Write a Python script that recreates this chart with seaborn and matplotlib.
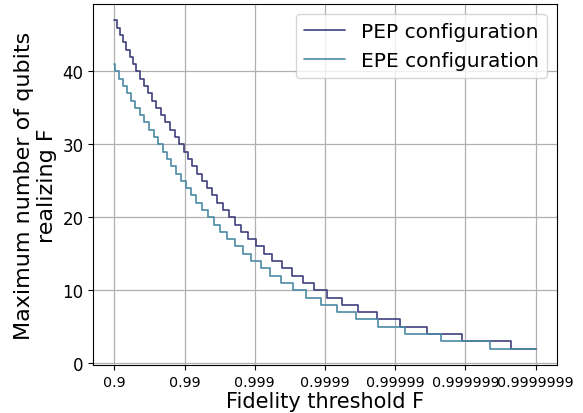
import matplotlib
matplotlib.use("Agg")
import matplotlib.pyplot as plt
import seaborn as sns
import pandas as pd

# x = -log10(1 - F); step starts for each qubit count
pep_levels = list(range(47, 1, -1))
pep_starts = [1.00, 1.04, 1.085, 1.13, 1.17, 1.22, 1.26, 1.31, 1.365, 1.421,
              1.478, 1.537, 1.598, 1.661, 1.725, 1.792, 1.860, 1.925, 1.989, 2.049,
              2.112, 2.178, 2.245, 2.316, 2.389, 2.465, 2.546, 2.63, 2.72, 2.81,
              2.91, 3.014, 3.133, 3.251, 3.389, 3.531, 3.687, 3.844, 4.028, 4.242,
              4.469, 4.744, 5.062, 5.450, 5.948, 6.654]
epe_levels = list(range(41, 1, -1))
epe_starts = [1.00, 1.01, 1.065, 1.121, 1.178, 1.237, 1.298, 1.361, 1.425, 1.492,
              1.560, 1.625, 1.689, 1.749, 1.812, 1.878, 1.945, 2.016, 2.089, 2.165,
              2.246, 2.33, 2.42, 2.51, 2.61, 2.714, 2.833, 2.953, 3.085, 3.223,
              3.379, 3.545, 3.725, 3.938, 4.171, 4.436, 4.754, 5.142, 5.645, 6.351]
x_end = 7.0

tick_pos = [1, 2, 3, 4, 5, 6, 7]
tick_labels = ["0.9", "0.99", "0.999", "0.9999", "0.99999", "0.999999", "0.9999999"]

series_names = ["PEP configuration", "EPE configuration"]
colors = ["#3f3f7e", "#4a8aa6"]

sns.set_style("ticks")
plt.rcParams['font.family'] = ['DejaVu Sans']
plt.rcParams.update({"text.color": "black", "axes.labelcolor": "black",
                     "xtick.color": "black", "ytick.color": "black",
                     "axes.edgecolor": "black"})

fig = plt.figure(figsize=(5.83, 4.14), dpi=100)
ax = fig.add_axes([0.160, 0.116, 0.795, 0.872])

for name, starts, levels, c in [(series_names[0], pep_starts, pep_levels, colors[0]),
                                 (series_names[1], epe_starts, epe_levels, colors[1])]:
    df = pd.DataFrame({"x": starts + [x_end], "y": levels + [levels[-1]]})
    sns.lineplot(data=df, x="x", y="y", ax=ax, color=c, label=name,
                 drawstyle="steps-post", estimator=None, sort=False, linewidth=1.2)

ax.set_xticks(tick_pos)
ax.set_xticklabels(tick_labels, fontsize=10.3)
ax.tick_params(axis="y", labelsize=12)
ax.set_yticks([0, 10, 20, 30, 40])
ax.grid(True, color="#b0b0b0", linewidth=0.9)
for s in ax.spines.values():
    s.set_visible(True)
    s.set_color("black")
ax.set_xlabel("Fidelity threshold F", fontsize=15, labelpad=2)
ax.set_ylabel("Maximum number of qubits\nrealizing F", fontsize=16)
leg = ax.legend(loc="upper right", fontsize=14.5)
for t in leg.get_texts():
    t.set_color("black")

fig.savefig("out.png", dpi=100)
